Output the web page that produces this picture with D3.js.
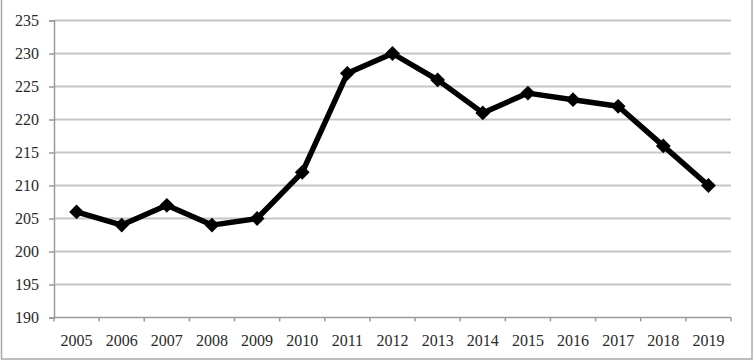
<!DOCTYPE html>
<html>
<head>
<meta charset="utf-8">
<script src="https://cdn.jsdelivr.net/npm/d3@7"></script>
<style>
	body { margin: 0; background: #fff; }
	svg text { font-family: "Liberation Serif", "DejaVu Serif", serif; font-size: 16px; fill: #2a2a2a; }
</style>
</head>
<body>
<div id="chart"></div>
<script>

const years = ["2005", "2006", "2007", "2008", "2009", "2010", "2011", "2012", "2013", "2014", "2015", "2016", "2017", "2018", "2019"];
const values = [206, 204, 207, 204, 205, 212, 227, 230, 226, 221, 224, 223, 222, 216, 210];
const yTicks = [190, 195, 200, 205, 210, 215, 220, 225, 230, 235];

const WIDTH = 754;
const HEIGHT = 362;

const margin = {
	top: 20.5,
	bottom: 44.5,
	left: 54,
	right: 23
};

const width = WIDTH - margin.left - margin.right;
const height = HEIGHT - margin.top - margin.bottom;

const svg = d3.select("#chart").append("svg")
	.attr("width", WIDTH)
	.attr("height", HEIGHT);

// outer frame (top edge sits off the picture)
svg.append("rect")
	.attr("x", 1.5)
	.attr("y", -3)
	.attr("width", 750.5)
	.attr("height", 362)
	.attr("fill", "none")
	.attr("stroke", "#a8a8a8")
	.attr("stroke-width", 1.5);

const g = svg.append("g")
	.attr("transform", "translate(" + margin.left + "," + margin.top + ")");

const scaleX = d3.scaleBand()
	.domain(years)
	.range([0, width]);

const scaleY = d3.scaleLinear()
	.domain([190, 235])
	.range([height, 0]);

// gridlines
g.selectAll(".grid")
	.data(yTicks.filter(d => d > 190))
	.enter()
	.append("line")
	.attr("x1", 0)
	.attr("x2", width)
	.attr("y1", d => scaleY(d))
	.attr("y2", d => scaleY(d))
	.attr("stroke", "#c6c6c6")
	.attr("stroke-width", 2);

// y axis
const axisY = d3.axisLeft(scaleY)
	.tickValues(yTicks)
	.tickSize(5)
	.tickPadding(10);

const gY = g.append("g").call(axisY);
gY.select(".domain").attr("stroke", "#9a9a9a").attr("stroke-width", 1.5);
gY.selectAll(".tick line").attr("stroke", "#9a9a9a").attr("stroke-width", 1.5);
gY.selectAll("text").attr("font-family", null).attr("font-size", null);

// x axis, ticks between the categories
const gX = g.append("g")
	.attr("transform", "translate(0," + height + ")");

gX.append("line")
	.attr("x1", 0)
	.attr("x2", width)
	.attr("stroke", "#9a9a9a")
	.attr("stroke-width", 1.5);

const edges = years.map(d => scaleX(d)).concat([width]);
gX.selectAll(".xtick")
	.data(edges)
	.enter()
	.append("line")
	.attr("x1", d => d)
	.attr("x2", d => d)
	.attr("y1", 0)
	.attr("y2", 4)
	.attr("stroke", "#9a9a9a")
	.attr("stroke-width", 1.5);

gX.selectAll(".xlabel")
	.data(years)
	.enter()
	.append("text")
	.attr("x", d => scaleX(d) + scaleX.bandwidth() / 2)
	.attr("y", 28)
	.attr("text-anchor", "middle")
	.text(d => d);

// series
const cx = (d, i) => scaleX(years[i]) + scaleX.bandwidth() / 2;

const line = d3.line()
	.x(cx)
	.y(d => scaleY(d));

g.append("path")
	.datum(values)
	.attr("d", line)
	.attr("fill", "none")
	.attr("stroke", "#000")
	.attr("stroke-width", 5.5)
	.attr("stroke-linejoin", "round");

g.selectAll(".marker")
	.data(values)
	.enter()
	.append("path")
	.attr("d", d3.symbol().type(d3.symbolDiamond2).size(140))
	.attr("transform", (d, i) => "translate(" + cx(d, i) + "," + scaleY(d) + ")")
	.attr("fill", "#000");

</script>
</body>
</html>
